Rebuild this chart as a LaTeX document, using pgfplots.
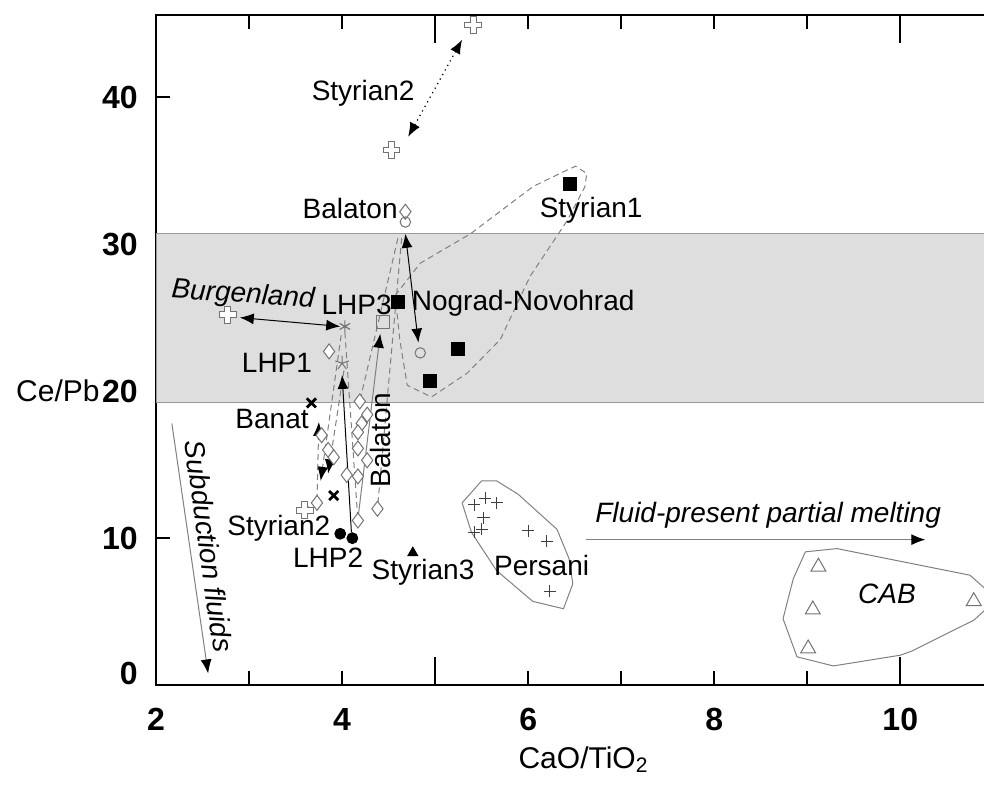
\documentclass[border=0pt]{standalone}
\usepackage{fontspec}
\setmainfont{Liberation Sans}
\usepackage{pgfplots}
\pgfplotsset{compat=1.18}
\usetikzlibrary{arrows.meta}

% open greek cross mark (Styrian2, Burgenland)
\pgfdeclareplotmark{ocross}{%
  \pgfpathmoveto{\pgfqpoint{-0.35\pgfplotmarksize}{\pgfplotmarksize}}%
  \pgfpathlineto{\pgfqpoint{0.35\pgfplotmarksize}{\pgfplotmarksize}}%
  \pgfpathlineto{\pgfqpoint{0.35\pgfplotmarksize}{0.35\pgfplotmarksize}}%
  \pgfpathlineto{\pgfqpoint{\pgfplotmarksize}{0.35\pgfplotmarksize}}%
  \pgfpathlineto{\pgfqpoint{\pgfplotmarksize}{-0.35\pgfplotmarksize}}%
  \pgfpathlineto{\pgfqpoint{0.35\pgfplotmarksize}{-0.35\pgfplotmarksize}}%
  \pgfpathlineto{\pgfqpoint{0.35\pgfplotmarksize}{-\pgfplotmarksize}}%
  \pgfpathlineto{\pgfqpoint{-0.35\pgfplotmarksize}{-\pgfplotmarksize}}%
  \pgfpathlineto{\pgfqpoint{-0.35\pgfplotmarksize}{-0.35\pgfplotmarksize}}%
  \pgfpathlineto{\pgfqpoint{-\pgfplotmarksize}{-0.35\pgfplotmarksize}}%
  \pgfpathlineto{\pgfqpoint{-\pgfplotmarksize}{0.35\pgfplotmarksize}}%
  \pgfpathlineto{\pgfqpoint{-0.35\pgfplotmarksize}{0.35\pgfplotmarksize}}%
  \pgfpathclose
  \pgfusepathqfillstroke}

\definecolor{mk}{gray}{0.45}
\definecolor{band}{gray}{0.87}
\newcommand{\lab}{\fontsize{14}{16}\selectfont}

\tikzset{
  arr/.style={-{Latex[length=7pt,width=5.5pt,black]}},
  darr/.style={{Latex[length=7pt,width=5.5pt,black]}-{Latex[length=7pt,width=5.5pt,black]}},
  dsh/.style={dash pattern=on 3pt off 2pt},
}

\begin{document}
\begin{tikzpicture}
\useasboundingbox (-78pt,-50pt) rectangle (413.85pt,342.5pt);
% the right spine of the box lies just outside the page, as in the cropped original
\begin{axis}[
  scale only axis, width=415pt, height=335pt,
  xmin=2, xmax=10.925, ymin=0, ymax=45.58,
  ytick pos=left,
  xtick={2,4,6,8,10},
  minor xtick={3,7,9},
  extra x ticks={5,10}, extra x tick labels={},
  extra x tick style={major tick length=14pt},
  ytick={10,20,30,40},
  extra y ticks={0},
  extra y tick style={yticklabel style={yshift=6pt}},
  major tick length=7pt, minor tick length=7pt,
  tick align=inside,
  every tick/.style={line width=1pt, black},
  axis line style={line width=1.1pt},
  tick label style={font=\fontsize{16}{18}\selectfont\bfseries},
  /pgf/number format/assume math mode=true,
  xticklabel style={inner sep=0pt, yshift=-11.5pt, anchor=north},
  yticklabel style={inner sep=0pt, xshift=-9pt, anchor=east},
]

% Ce/Pb band
\addplot[draw=gray!80, fill=band, line width=0.6pt] coordinates
  {(2,19.2)(10.95,19.2)(10.95,30.7)(2,30.7)(2,19.2)};

% fields
\addplot[gray, line width=0.5pt] coordinates {
  (5.29,12.4)(5.50,13.9)(5.66,13.9)(5.89,13.0)(6.31,10.6)(6.44,8.6)
  (6.48,6.9)(6.38,5.2)(6.05,5.7)(5.66,7.8)(5.39,10.4)(5.29,12.4)};
\addplot[gray, line width=0.5pt] coordinates {
  (8.98,9.07)(9.32,9.29)(10.75,7.48)(10.95,6.35)(10.95,5.33)(10.79,4.42)
  (10.12,2.31)(10.00,2.04)(9.28,1.31)(8.89,1.93)(8.74,4.52)(8.85,7.24)(8.98,9.07)};
\addplot[gray, dsh, line width=0.5pt] coordinates {
  (4.57,26.5)(4.84,28.7)(5.38,30.7)(6.05,33.9)(6.34,34.8)(6.51,35.3)
  (6.63,34.8)(6.61,33.9)(6.42,31.6)(6.02,27.8)(5.70,23.5)(5.34,21.2)
  (4.96,19.6)(4.70,20.4)(4.62,23.5)(4.57,26.5)};

% dashed links
\addplot[gray, dsh, line width=0.5pt] coordinates {(4.64,30.4)(4.38,12.0)};
\addplot[gray, dsh, line width=0.5pt] coordinates {(4.60,30.4)(4.19,19.3)};
\addplot[gray, dsh, line width=0.5pt] coordinates {(4.03,24.0)(4.17,11.2)};
\addplot[gray, dsh, line width=0.5pt, arr] coordinates {(3.99,23.8)(3.77,13.9)};
\addplot[gray, dsh, line width=0.5pt, arr] coordinates {(4.02,21.4)(3.85,14.4)};
\addplot[gray, dsh, line width=0.5pt, arr] coordinates {(3.73,12.6)(3.75,17.9)};

% trend arrows
\addplot[black, dotted, line width=0.6pt, darr] coordinates {(4.71,37.3)(5.29,43.9)};
\addplot[black, line width=0.5pt, darr] coordinates {(4.68,30.7)(4.82,23.3)};
\addplot[black, line width=0.5pt, darr] coordinates {(2.90,25.0)(3.98,24.4)};
\addplot[black, line width=0.5pt, arr] coordinates {(4.10,10.4)(4.00,21.1)};
\addplot[gray, line width=0.5pt, arr] coordinates {(4.17,11.3)(4.41,23.9)};
\addplot[gray, line width=0.5pt, arr] coordinates {(2.17,17.8)(2.56,0.8)};
\addplot[gray, line width=0.5pt, arr] coordinates {(6.62,9.9)(10.27,9.9)};

% Balaton (open diamonds)
\addplot[only marks, mark=diamond*, mark size=3.75pt,
  mark options={fill=white, draw=mk, line width=0.5pt}] coordinates {
  (4.68,32.2)(3.86,22.7)(4.19,19.3)(4.27,18.4)(4.21,17.8)(4.17,17.2)
  (4.17,16.1)(4.27,15.3)(4.17,14.2)(4.05,14.3)(3.78,17.0)(3.85,16.0)
  (3.91,15.5)(3.73,12.4)(3.60,11.9)(4.38,12.0)(4.17,11.2)};
% Styrian2 / Burgenland (open crosses)
\addplot[only marks, mark=ocross, mark size=4.2pt,
  mark options={fill=white, draw=mk, line width=0.5pt}] coordinates {
  (5.41,44.9)(4.53,36.4)(3.60,11.9)(2.77,25.2)};
% open circles
\addplot[only marks, mark=o, mark size=2.6pt,
  mark options={draw=mk, line width=0.5pt}] coordinates {(4.68,31.5)(4.84,22.6)};
% Styrian1 / Nograd-Novohrad
\addplot[only marks, mark=square*, mark size=3.25pt, mark options={black}]
  coordinates {(6.45,34.1)(4.60,26.1)(5.25,22.9)(4.94,20.7)};
% LHP3
\addplot[only marks, mark=square, mark size=3.25pt,
  mark options={draw=mk, line width=0.5pt}] coordinates {(4.44,24.7)};
\addplot[only marks, mark=asterisk, mark size=3pt,
  mark options={draw=mk, line width=0.6pt}] coordinates {(4.03,24.4)};
% LHP1
\addplot[only marks, mark=star, mark size=3.6pt,
  mark options={draw=mk, line width=0.5pt}] coordinates {(4.00,21.9)};
% Banat
\addplot[only marks, mark=x, mark size=3.2pt,
  mark options={black, line width=1.4pt}] coordinates {(3.67,19.2)(3.91,12.9)};
% Styrian2 / LHP2
\addplot[only marks, mark=*, mark size=2.75pt, mark options={black}]
  coordinates {(3.98,10.3)(4.11,10.0)};
% Styrian3
\addplot[only marks, mark=triangle*, mark size=2.9pt, mark options={black}]
  coordinates {(4.76,9.0)};
% Persani
\addplot[only marks, mark=+, mark size=3pt,
  mark options={draw=black!75, line width=0.5pt}] coordinates {
  (5.42,12.26)(5.54,12.7)(5.66,12.4)(5.52,11.4)(5.42,10.4)(5.50,10.6)
  (6.00,10.5)(6.20,9.8)(6.23,6.4)};
% CAB
\addplot[only marks, mark=triangle, mark size=4.3pt,
  mark options={draw=mk, line width=0.5pt}] coordinates {
  (9.12,8.05)(9.06,5.14)(9.01,2.49)(10.79,5.71)};

% labels
\node[font=\lab] at (axis cs:4.226,40.27) {Styrian2};
\node[font=\lab] at (axis cs:4.086,32.45) {Balaton};
\node[font=\lab] at (axis cs:6.677,32.3) {Styrian1};
\node[font=\lab] at (axis cs:5.946,26.0) {Nograd-Novohrad};
\node[font=\lab] at (axis cs:4.156,25.85) {LHP3};
\node[font=\lab\itshape, rotate=-4] at (axis cs:2.935,26.5) {Burgenland};
\node[font=\lab] at (axis cs:3.30,21.9) {LHP1};
\node[font=\lab] at (axis cs:3.247,18.1) {Banat};
\node[font=\lab, rotate=90] at (axis cs:4.41,16.67) {Balaton};
\node[font=\lab] at (axis cs:3.32,10.68) {Styrian2};
\node[font=\lab] at (axis cs:3.85,8.7) {LHP2};
\node[font=\lab] at (axis cs:4.87,7.69) {Styrian3};
\node[font=\lab] at (axis cs:6.145,8.16) {Persani};
\node[font=\lab\itshape] at (axis cs:8.58,11.56) {Fluid-present partial melting};
\node[font=\lab\itshape] at (axis cs:9.857,6.24) {CAB};
\node[font=\lab\itshape, rotate=-82] at (axis cs:2.57,9.46) {Subduction fluids};
\end{axis}
\node[anchor=east, inner sep=0pt, font=\fontsize{15}{18}\selectfont] at (-28pt,147pt) {Ce/Pb};
\node[anchor=base west, inner sep=0pt, font=\fontsize{15}{18}\selectfont] at (181pt,-41.5pt) {CaO/TiO\textsubscript{2}};
\end{tikzpicture}
\end{document}
